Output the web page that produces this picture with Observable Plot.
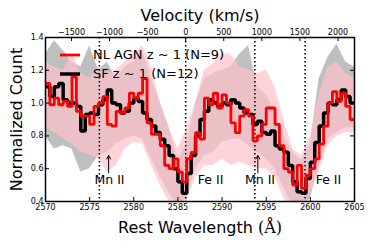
<!DOCTYPE html>
<html><head><meta charset="utf-8">
<script src="https://cdn.jsdelivr.net/npm/d3@7"></script>
<script src="https://cdn.jsdelivr.net/npm/@observablehq/plot@0.6"></script>
<style>
body{margin:0;background:#fff;}
#wrap{position:relative;width:374px;height:249px;font-family:"DejaVu Sans",sans-serif;}
.leg{position:absolute;left:60px;font-size:13px;display:flex;align-items:center;white-space:nowrap;color:#000;}
.sw{width:20px;margin-right:13px;}
</style></head><body><div id="wrap"></div>
<script>
// Step spectra (bin start wavelengths, Å)
const wavelength = [2570,2570.5,2571,2571.5,2572,2572.5,2573,2573.5,2574,2574.5,
  2575,2575.5,2576,2576.5,2577,2577.5,2578,2578.5,2579,2579.5,
  2580,2580.5,2581,2581.5,2582,2582.5,2583,2583.5,2584,2584.5,
  2585,2585.5,2586,2586.5,2587,2587.5,2588,2588.5,2589,2589.5,
  2590,2590.5,2591,2591.5,2592,2592.5,2593,2593.5,2594,2594.5,
  2595,2595.5,2596,2596.5,2597,2597.5,2598,2598.5,2599,2599.5,
  2600,2600.5,2601,2601.5,2602,2602.5,2603,2603.5,2604,2604.5,2605];
const sfCount = [1.10,1.04,1.10,1.12,1.02,1.00,1.00,0.98,0.83,0.93,
  0.94,0.93,0.99,1.02,1.08,1.00,0.99,0.94,0.95,1.00,
  1.03,1.01,0.94,0.90,0.86,0.82,0.78,0.74,0.68,0.60,
  0.52,0.45,0.57,0.68,0.80,0.90,0.95,1.02,1.00,0.98,
  1.00,0.99,1.02,1.00,0.97,0.94,0.93,0.87,0.89,0.82,
  0.81,0.83,0.74,0.72,0.70,0.62,0.52,0.46,0.45,0.54,
  0.64,0.76,0.86,0.94,1.00,0.99,1.02,1.08,1.04,1.00,1.00];
const agnCount = [1.12,0.99,1.03,0.99,1.01,0.98,1.16,0.95,0.92,0.92,
  0.87,0.98,1.00,1.04,0.87,0.86,0.95,0.94,0.97,1.06,
  1.03,1.06,1.15,0.88,0.81,0.81,0.74,0.62,0.60,0.66,
  0.58,0.52,0.66,0.70,0.82,0.78,1.03,0.99,1.06,0.97,
  1.05,1.00,0.88,0.82,0.92,0.96,0.92,0.77,0.80,0.87,
  0.97,0.97,0.87,0.74,0.60,0.58,0.50,0.62,0.48,0.56,
  0.60,0.66,0.75,0.86,1.00,1.07,1.01,1.06,0.98,0.90,0.90];
// Uncertainty envelopes
const bandWavelength = [2570,2571,2572,2573,2574,2575,2576,2577,2578,2579,2580,2581,2582,2583,2584,2585,2586,2587,2588,2589,2590,2591,2592,2593,2594,2595,2596,2597,2598,2599,2600,2601,2602,2603,2604,2605];
const sfUpper = [1.30,1.38,1.32,1.25,1.22,1.35,1.20,1.25,1.15,1.22,1.25,1.32,1.15,1.00,0.85,0.65,0.75,1.00,1.15,1.18,1.20,1.22,1.30,1.35,1.10,1.05,0.95,0.80,0.70,0.65,0.75,1.15,1.28,1.36,1.25,1.22];
const sfLower = [0.80,0.72,0.74,0.72,0.58,0.60,0.68,0.70,0.75,0.78,0.80,0.78,0.66,0.55,0.45,0.38,0.42,0.60,0.68,0.70,0.76,0.78,0.78,0.74,0.70,0.66,0.60,0.48,0.38,0.36,0.42,0.62,0.78,0.82,0.85,0.85];
const agnUpper = [1.25,1.22,1.20,1.30,1.18,1.15,1.22,1.18,1.20,1.25,1.30,1.35,1.22,1.00,0.85,0.72,0.85,1.00,1.20,1.24,1.30,1.30,1.22,1.20,1.18,1.20,1.10,0.90,0.72,0.68,0.80,1.05,1.22,1.25,1.18,1.15];
const agnLower = [0.85,0.82,0.78,0.75,0.70,0.68,0.66,0.58,0.62,0.72,0.76,0.75,0.62,0.50,0.40,0.36,0.40,0.55,0.62,0.62,0.66,0.62,0.64,0.62,0.60,0.60,0.55,0.42,0.36,0.36,0.45,0.58,0.74,0.80,0.82,0.82];
// Line markers and annotations
const lineWavelengths = [2576.10, 2585.88, 2593.72, 2599.40];
const labelText = ["Mn II", "Fe II", "Mn II", "Fe II"];
const labelWavelength = [2577.25, 2588.7, 2594.3, 2602.05];
const labelCount = [0.53, 0.53, 0.53, 0.53];
const arrowWavelength = [2577.15, 2594.05];
const arrowFrom = [0.575, 0.575];
const arrowTo = [0.68, 0.68];
// Axes
const xTicks = [2570,2575,2580,2585,2590,2595,2600,2605];
const yTicks = [0.4,0.6,0.8,1.0,1.2,1.4];
const velTicks = [-1500,-1000,-500,0,500,1000,1500,2000];
const restWavelength = 2585.88;
const cLight = 299792.458;
const seriesNames = ["NL AGN z ~ 1 (N=9)", "SF z ~ 1 (N=12)"];
const seriesColors = ["#ff0000", "#000000"];

const sfRows = wavelength.map((w,i)=>({w, v: sfCount[i]}));
const agnRows = wavelength.map((w,i)=>({w, v: agnCount[i]}));
const bandRows = bandWavelength.map((w,i)=>({w, sfLo: sfLower[i], sfHi: sfUpper[i], agLo: agnLower[i], agHi: agnUpper[i]}));
const labels = labelText.map((t,i)=>({t, w: labelWavelength[i], y: labelCount[i]}));
const arrows = arrowWavelength.map((w,i)=>({w, y1: arrowFrom[i], y2: arrowTo[i]}));

const W = 374, H = 249, mL = 45, mR = 20, mT = 37, mB = 48;
const fw = W - mL - mR, fh = H - mT - mB;
const fmtMinus = v => (v < 0 ? "\u2212" + Math.abs(v) : String(v));

const chart = Plot.plot({
  width: W, height: H,
  marginLeft: mL, marginRight: mR, marginTop: mT, marginBottom: mB,
  style: {fontFamily: "DejaVu Sans", background: "#fff", color: "#000"},
  x: {domain: [2570, 2605]},
  y: {domain: [0.4, 1.4]},
  marks: [
    Plot.areaY(bandRows, {x: "w", y1: "sfLo", y2: "sfHi", fill: "#808080", fillOpacity: 0.5, clip: true}),
    Plot.areaY(bandRows, {x: "w", y1: "agLo", y2: "agHi", fill: "#ffc0cb", fillOpacity: 0.7, clip: true}),
    Plot.ruleX(lineWavelengths, {x: d => d, stroke: "black", strokeWidth: 1.5, strokeDasharray: "1.5,2.5"}),
    Plot.line(sfRows, {x: "w", y: "v", curve: "step-after", stroke: "black", strokeWidth: 3.5, strokeLinejoin: "miter", clip: true}),
    Plot.line(agnRows, {x: "w", y: "v", curve: "step-after", stroke: "#ff0000", strokeWidth: 2.8, strokeLinejoin: "miter", clip: true}),
    Plot.text(labels, {x: "w", y: "y", text: "t", fontSize: 12.5, fill: "black", lineAnchor: "middle"}),
    Plot.arrow(arrows, {x: "w", y1: "y1", y2: "y2", stroke: "black", strokeWidth: 1, headLength: 6}),
    // inward ticks
    Plot.tickX(xTicks, {x: d => d, insetTop: fh - 4, stroke: "black"}),
    Plot.tickX(velTicks.map(v => restWavelength * (1 + v / cLight)), {x: d => d, insetBottom: fh - 4, stroke: "black"}),
    Plot.tickY(yTicks, {y: d => d, insetRight: fw - 4, stroke: "black"}),
    Plot.tickY(yTicks, {y: d => d, insetLeft: fw - 4, stroke: "black"}),
    Plot.axisX({anchor: "bottom", ticks: xTicks, tickSize: 0, tickPadding: 3, fontSize: 8, label: null, tickFormat: d => String(d)}),
    Plot.axisX({anchor: "top", ticks: velTicks.map(v => restWavelength * (1 + v / cLight)), tickSize: 0, tickPadding: 3, fontSize: 8, label: null,
      tickFormat: d => fmtMinus(Math.round(((d / restWavelength) - 1) * cLight / 100) * 100)}),
    Plot.axisY({ticks: yTicks, tickSize: 0, tickPadding: 2, fontSize: 8, label: null, tickFormat: d3.format(".1f")}),
    Plot.text(["Rest Wavelength (Å)"], {frameAnchor: "bottom", dy: 26, fontSize: 16, lineAnchor: "middle"}),
    Plot.text(["Velocity (km/s)"], {frameAnchor: "top", dy: -22, fontSize: 16, lineAnchor: "middle"}),
    Plot.text(["Normalized Count"], {frameAnchor: "left", dx: -29, rotate: -90, fontSize: 16, textAnchor: "middle", lineAnchor: "middle"}),
    Plot.frame({stroke: "black", strokeWidth: 1.5})
  ]
});

// serif Angstrom like mathtext
chart.querySelectorAll("text").forEach(t => {
  if (t.textContent === "Rest Wavelength (Å)") {
    t.textContent = "Rest Wavelength ";
    const ts = document.createElementNS("http://www.w3.org/2000/svg", "tspan");
    ts.setAttribute("font-family", "DejaVu Serif");
    ts.textContent = "(Å)";
    t.appendChild(ts);
  }
});

const wrap = document.getElementById("wrap");
wrap.appendChild(chart);
const legTop = [47, 66];
seriesNames.forEach((name, i) => {
  const d = document.createElement("div");
  d.className = "leg";
  d.style.top = legTop[i] + "px";
  d.innerHTML = `<svg class="sw" width="20" height="14"><line x1="0" x2="20" y1="7" y2="7" stroke="${seriesColors[i]}" stroke-width="${i ? 3.5 : 2.8}"/></svg><span>${name}</span>`;
  wrap.appendChild(d);
});
</script>
</body></html>
